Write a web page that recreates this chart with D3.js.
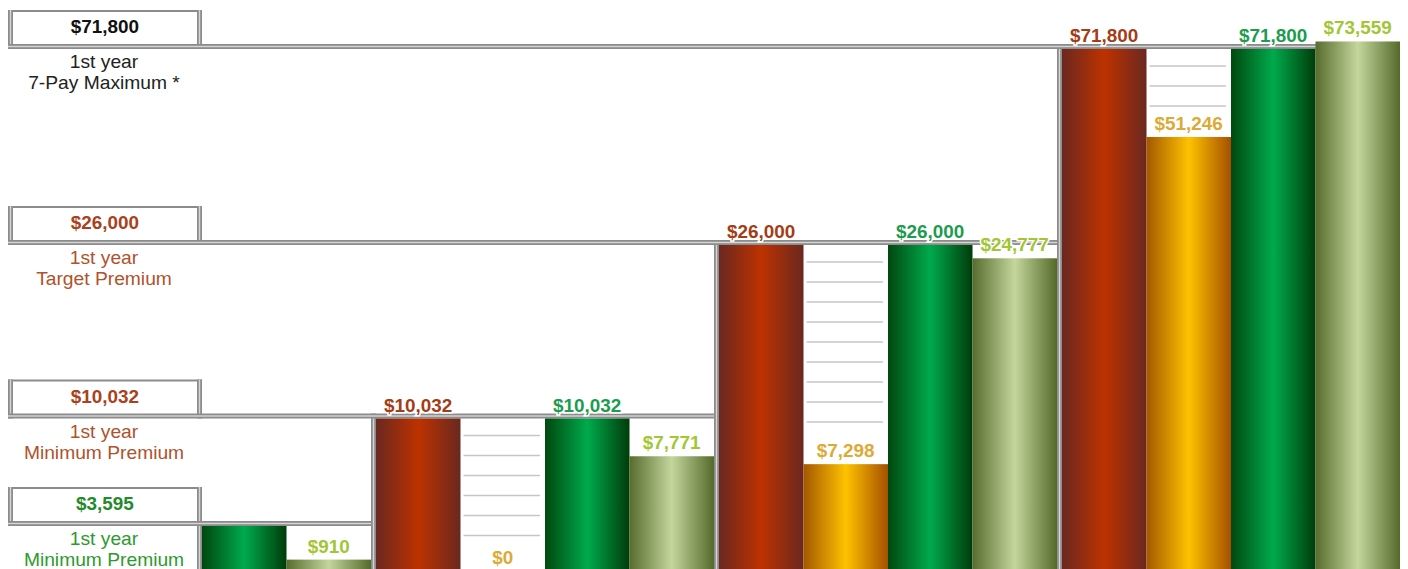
<!DOCTYPE html>
<html>
<head>
<meta charset="utf-8">
<script src="https://cdn.jsdelivr.net/npm/d3@7"></script>
<style>
  html, body { margin: 0; padding: 0; background: #fff; }
  svg { display: block; font-family: "Liberation Sans", Arial, sans-serif; }
</style>
</head>
<body>
<svg id="chart" width="1408" height="569"></svg>
<script>
// Premium comparison, stepped panels (D3 v7)

// reference levels, one per panel, lowest first
const levelValues = [3595, 10032, 26000, 71800];
const levelTitles = [
    ['1st year', 'Minimum Premium'],
    ['1st year', 'Minimum Premium'],
    ['1st year', 'Target Premium'],
    ['1st year', '7-Pay Maximum *'],
];
const levelColors = ['#1f8c2a', '#a8421c', '#a8421c', '#111111'];
const levelTitleColors = ['#2e9a2e', '#b0522c', '#b0522c', '#222222'];

// bar series, one value per panel (null = no bar in that panel)
const redValues = [null, 10032, 26000, 71800];
const goldValues = [null, 0, 7298, 51246];
const greenValues = [3595, 10032, 26000, 71800];
const oliveValues = [910, 7771, 24777, 73559];

const SERIES = [
    { key: 'red', values: redValues, label: '#a33d17', stops: ['#6a2820', '#bd3200', '#6a2820'] },
    { key: 'gold', values: goldValues, label: '#dcaa35', stops: ['#a35800', '#ffc200', '#a55000'] },
    { key: 'green', values: greenValues, label: '#1c9c4e', stops: ['#00480f', '#00aa4c', '#003c0a'] },
    { key: 'olive', values: oliveValues, label: '#a2c634', stops: ['#586c2e', '#c4d69c', '#546a2a'] },
];

const RULE = '#8c8c8c';
const RULE_LIGHT = '#d6d6d6';
const STRIPE = '#c6c6c6';
const fmt = d3.format('$,');

const svg = d3.select('#chart');

// stepped value scale, anchored on the reference levels
const y = d3.scaleLinear()
    .domain([0, 3595, 10032, 26000, 71800])
    .range([571, 526, 418.5, 245, 49]);

// build panels from the series arrays
const panels = levelValues.map((level, p) => {
    const bars = SERIES
        .map(s => ({ key: s.key, value: s.values[p], series: s }))
        .filter(b => b.value !== null);
    return { p, level, bars };
});

const totalSlots = d3.sum(panels, d => d.bars.length);
const slotX = d3.scaleLinear().domain([0, totalSlots]).range([0, 1183]);
const RULE_W = 5;
const x0 = 197;

let start = 0;
panels.forEach(d => {
    d.ruleX = x0 + d.p * RULE_W + slotX(start);
    start += d.bars.length;
    d.right = x0 + (d.p + 1) * RULE_W + slotX(start);
    d.bars.forEach((b, i) => {
        b.x = d.ruleX + RULE_W + slotX(i);
        b.w = slotX(1);
        b.panel = d;
    });
});
const rightEdge = panels[panels.length - 1].right;

// gradients
const defs = svg.append('defs');
SERIES.forEach(s => {
    const g = defs.append('linearGradient')
        .attr('id', 'grad-' + s.key)
        .attr('x1', 0).attr('x2', 1).attr('y1', 0).attr('y2', 0);
    g.selectAll('stop')
        .data(s.stops)
        .join('stop')
        .attr('offset', (c, i) => i / (s.stops.length - 1))
        .attr('stop-color', c => c);
});

// ruled lines in the empty part of short slots
const allBars = panels.flatMap(d => d.bars);
const stripeData = [];
allBars.forEach(b => {
    const top = y(b.panel.level);
    const barTop = y(b.value);
    for (let yy = top + 17; yy < barTop - 28; yy += 20) {
        stripeData.push({ x: b.x, w: b.w, y: yy });
    }
});
svg.append('g')
    .selectAll('line')
    .data(stripeData)
    .join('line')
    .attr('x1', d => d.x + 3)
    .attr('x2', d => d.x + d.w - 5)
    .attr('y1', d => d.y)
    .attr('y2', d => d.y)
    .attr('stroke', STRIPE)
    .attr('stroke-width', 1.5);

// beveled rules
function hRule(g, xa, xb, yy) {
    g.append('rect').attr('x', xa).attr('y', yy - 5).attr('width', xb - xa).attr('height', 5).attr('fill', RULE);
    g.append('rect').attr('x', xa).attr('y', yy - 3.2).attr('width', xb - xa).attr('height', 1.4).attr('fill', RULE_LIGHT);
}
function vRule(g, xx, ya, yb) {
    g.append('rect').attr('x', xx).attr('y', ya).attr('width', 5).attr('height', yb - ya).attr('fill', RULE);
    g.append('rect').attr('x', xx + 1.8).attr('y', ya).attr('width', 1.4).attr('height', yb - ya).attr('fill', RULE_LIGHT);
}

const frame = svg.append('g');

// label boxes on the left
panels.forEach(d => {
    const ly = y(d.level);
    const top = ly - 39;
    frame.append('rect').attr('x', 8).attr('y', top).attr('width', 194).attr('height', 2).attr('fill', RULE);
    vRule(frame, 8, top, ly);
    vRule(frame, 197, top, ly);
});

// panel rules: level line across to the panel end, then down the left side
panels.forEach(d => {
    const ly = y(d.level);
    vRule(frame, d.ruleX, ly - 5, 569);
    hRule(frame, 8, d.right, ly);
});
vRule(frame, rightEdge - RULE_W, y(panels[panels.length - 1].level) - 5, 569);

// bars
svg.append('g')
    .selectAll('rect')
    .data(allBars)
    .join('rect')
    .attr('x', d => d.x)
    .attr('width', d => d.w)
    .attr('y', d => y(d.value))
    .attr('height', d => Math.max(0, y(0) - y(d.value)))
    .attr('fill', d => `url(#grad-${d.key})`);

// value labels (the lowest level bar is already named in its box)
svg.append('g')
    .selectAll('text')
    .data(allBars.filter(d => !(d.panel.p === 0 && d.value === d.panel.level)))
    .join('text')
    .attr('transform', d => `translate(${d.x + d.w / 2},${y(d.value) - 7}) scale(1.05,1)`)
    .attr('text-anchor', 'middle')
    .attr('font-size', '18px')
    .attr('font-weight', 'bold')
    .attr('fill', d => d.series.label)
    .attr('stroke', '#fff')
    .attr('stroke-width', 3)
    .attr('paint-order', 'stroke')
    .text(d => fmt(d.value));

// box values and titles
const titles = svg.append('g');
panels.forEach(d => {
    const ly = y(d.level);
    titles.append('text')
        .attr('transform', `translate(105,${ly - 16}) scale(1.05,1)`)
        .attr('text-anchor', 'middle')
        .attr('font-size', '18px')
        .attr('font-weight', 'bold')
        .attr('fill', levelColors[d.p])
        .text(fmt(d.level));
    levelTitles[d.p].forEach((t, i) => {
        titles.append('text')
            .attr('transform', `translate(104,${ly + 19 + i * 21}) scale(1.1,1)`)
            .attr('text-anchor', 'middle')
            .attr('font-size', '17.5px')
            .attr('fill', levelTitleColors[d.p])
            .text(t);
    });
});
</script>
</body>
</html>
